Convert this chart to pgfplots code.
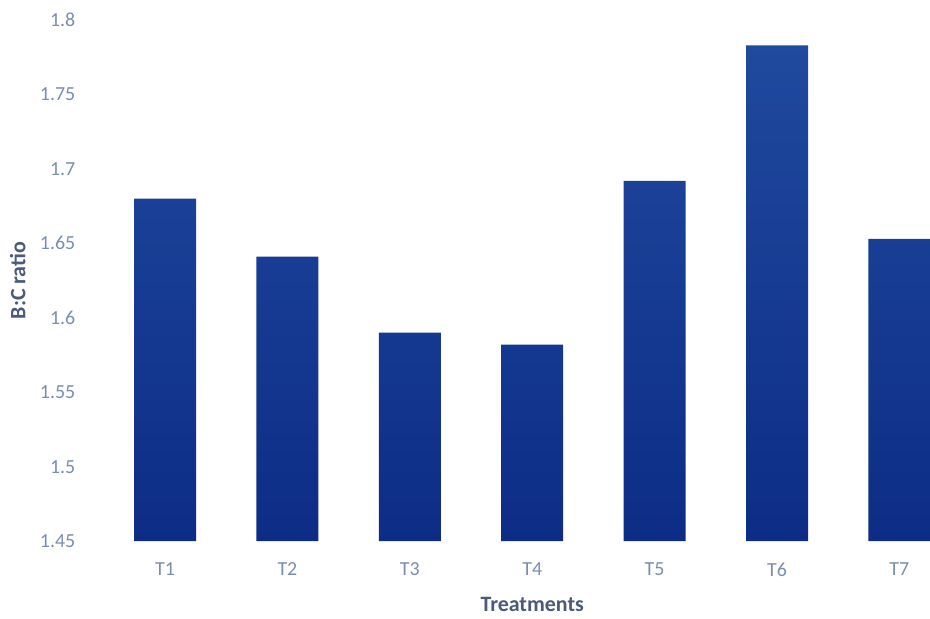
\documentclass[border=0pt]{standalone}
\usepackage{pgfplots}
\pgfplotsset{compat=1.18}
\usepackage{fontspec}
\setmainfont{Carlito}
\definecolor{barTop}{HTML}{1F4A9E}
\definecolor{barBot}{HTML}{0D2C86}
\definecolor{tickCol}{HTML}{7A8DB0}
\definecolor{labCol}{HTML}{4A5A78}
\begin{document}
\begin{tikzpicture}
\begin{axis}[
  name=ax,
  scale only axis,
  width=826bp, height=521bp,
  xmin=-0.5, xmax=6.25,
  ymin=1.45, ymax=1.8,
  ytick={1.45,1.5,...,1.8},
  yticklabels={1.45,1.5,1.55,1.6,1.65,1.7,1.75,1.8},
  xtick={0,...,6},
  xticklabels={T1,T2,T3,T4,T5,T6,T7},
  axis line style={draw=none},
  major tick length=0pt,
  tick style={draw=none},
  ticklabel style={font=\fontsize{20}{22}\selectfont, text=tickCol},
  yticklabel style={anchor=east, xshift=-25bp},
  xticklabel style={anchor=north, yshift=-18bp},
  /pgf/number format/assume math mode=true,
  xlabel={Treatments},
  ylabel={B:C ratio},
  label style={font=\fontsize{22}{24}\selectfont\bfseries, text=labCol},
  xlabel style={at={(axis cs:3,1.45)}, anchor=center, yshift=-63bp},
  ylabel style={at={(axis description cs:0,0.5)}, anchor=center, yshift=86bp},
  ybar, bar width=62bp,
  clip=true,
]
% B:C ratio per treatment
\addplot[draw=none, top color=barTop, bottom color=barBot, bar shift=0pt]
  coordinates {(0,1.68) (1,1.641) (2,1.59) (3,1.582) (4,1.692) (5,1.783) (6,1.653)};
\end{axis}
\pgfresetboundingbox
\useasboundingbox ([xshift=-103.8bp,yshift=-77bp]ax.south west) rectangle ([yshift=20bp]ax.north east);
\end{tikzpicture}
\end{document}
